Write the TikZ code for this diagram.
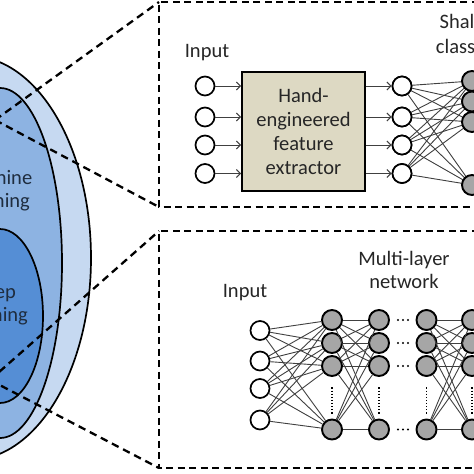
\documentclass[tikz,border=0pt]{standalone}
\usepackage{fontspec}
\setmainfont{Carlito}
\usetikzlibrary{arrows.meta}
\definecolor{outerblue}{HTML}{C6D9F1}
\definecolor{midblue}{HTML}{8DB3E2}
\definecolor{innerblue}{HTML}{558ED5}
\definecolor{tanbox}{HTML}{DDD9C3}
\definecolor{txtc}{HTML}{262626}
\definecolor{eltxt}{HTML}{1F2D3F}
\definecolor{linec}{HTML}{404040}
\definecolor{greyn}{HTML}{A6A6A6}
\begin{document}
\begin{tikzpicture}[x=1pt,y=-1pt,
  ell/.style={draw=black, line width=1.7pt},
  eltext/.style={font=\fontsize{20.5}{23.3}\selectfont, text=eltxt, align=center, inner sep=0pt},
  lbl/.style={font=\fontsize{20.5}{24.3}\selectfont, text=txtc, align=center, inner sep=0pt},
  dashbox/.style={draw=black, line width=2.3pt, dash pattern=on 7pt off 4.5pt},
  zoomline/.style={draw=black, line width=2.3pt, dash pattern=on 7.5pt off 5pt},
  wnode/.style={circle, draw=black, line width=1.7pt, fill=white, minimum size=19pt, inner sep=0pt},
  gnode/.style={circle, draw=black, line width=1.9pt, fill=greyn, minimum size=20pt, inner sep=0pt},
  conn/.style={draw=linec, line width=0.9pt},
  arr/.style={draw=linec, line width=1pt, -{Straight Barb[length=4pt,width=8pt]}},
  vdots/.style={draw=black, line width=1.7pt, dash pattern=on 1.3pt off 1.8pt, shorten <=10.5pt, shorten >=4pt},
  hdot/.style={fill=black, radius=1.1pt},
]
\useasboundingbox (0,0) rectangle (474,474);
\begin{scope}
\clip (0,0) rectangle (474,474);
\fill[white] (0,0) rectangle (474,474);
% nested ellipses
\draw[ell, fill=outerblue] (-30,258) ellipse [x radius=121, y radius=202];
\draw[ell, fill=midblue] (0,263) ellipse [x radius=62, y radius=175];
\draw[ell, fill=innerblue] (0,316) ellipse [x radius=43, y radius=87];
\node[eltext] (ml) at (-4,190.5) {Machine\\learning};
\node[eltext] (dl) at (-6,305) {Deep\\learning};
% zoom frames
\coordinate (mlz) at (-5,120);
\coordinate (dlz) at (-10,380);
\coordinate (tTL) at (159,2);
\coordinate (tBL) at (159,207);
\coordinate (tTR) at (490,2);
\coordinate (tBR) at (490,207);
\coordinate (bTL) at (159,231);
\coordinate (bBL) at (159,468);
\coordinate (bTR) at (490,231);
\coordinate (bBR) at (490,468);
\draw[dashbox] (tTR) -- (tTL) -- (tBL) -- (tBR);
\draw[dashbox] (bTR) -- (bTL) -- (bBL) -- (bBR);
\draw[zoomline] (mlz) -- (tTL);
\draw[zoomline] (mlz) -- (tBL);
\draw[zoomline] (dlz) -- (bTL);
\draw[zoomline] (dlz) -- (bBL);
% ---------- top: classic ML ----------
\node[lbl, anchor=base] (tin) at (207,57) {Input};
\node[lbl, draw=black, line width=1.7pt, fill=tanbox, minimum width=123pt, minimum height=119pt] (fe) at (303.5,131.5) {Hand-\\engineered\\feature\\extractor};
\foreach \i/\y in {1/86,2/117,3/145,4/173.5} {
  \node[wnode] (ti\i) at (205,\y) {};
  \node[wnode] (tf\i) at (402,\y) {};
  \draw[arr] (ti\i) -- (ti\i -| fe.west);
  \draw[arr] (fe.east |- tf\i) -- (tf\i);
}
\foreach \i/\y in {1/81,2/101.5,3/122,4/185} {
  \foreach \j in {1,...,4} { \draw[conn] (tf\j.center) -- (472,\y); }
}
\foreach \i/\y in {1/81,2/101.5,3/122,4/185} {
  \node[gnode] (ts\i) at (472,\y) {};
}
\foreach \j in {1,...,4} { \node[wnode] at (tf\j) {}; }
\node[lbl, font=\fontsize{20.5}{25}\selectfont] (shc) at (472,33.6) {Shallow\\classifier};
% ---------- bottom: deep learning ----------
\node[lbl, anchor=base] (bin) at (245,297) {Input};
\node[lbl, font=\fontsize{20.5}{23}\selectfont] (mln) at (404,270.3) {Multi-layer\\network};
\foreach \i/\y in {1/330.5,2/361,3/388.5,4/420} {
  \node[wnode] (bi\i) at (260,\y) {};
}
\foreach \l/\x in {1/332,2/379,3/426.5,4/472} {
  \foreach \i/\y in {1/320,2/343,3/366,4/429.5} {
    \node[gnode] (g\l\i) at (\x,\y) {};
  }
}
\foreach \i in {1,...,4} {
  \foreach \j in {1,...,4} {
    \draw[conn] (bi\i) -- (g1\j);
    \draw[conn] (g1\i) -- (g2\j);
    \draw[conn] (g3\i) -- (g4\j);
  }
}
\foreach \l in {1,...,4} {
  \draw[vdots] (g\l3.south) -- (g\l4.north);
}
\foreach \y in {320,343,366,429.5} {
  \fill[black] (398,\y) circle[radius=1.1pt];
  \fill[black] (403,\y) circle[radius=1.1pt];
  \fill[black] (408,\y) circle[radius=1.1pt];
}
\end{scope}
\end{tikzpicture}
\end{document}
